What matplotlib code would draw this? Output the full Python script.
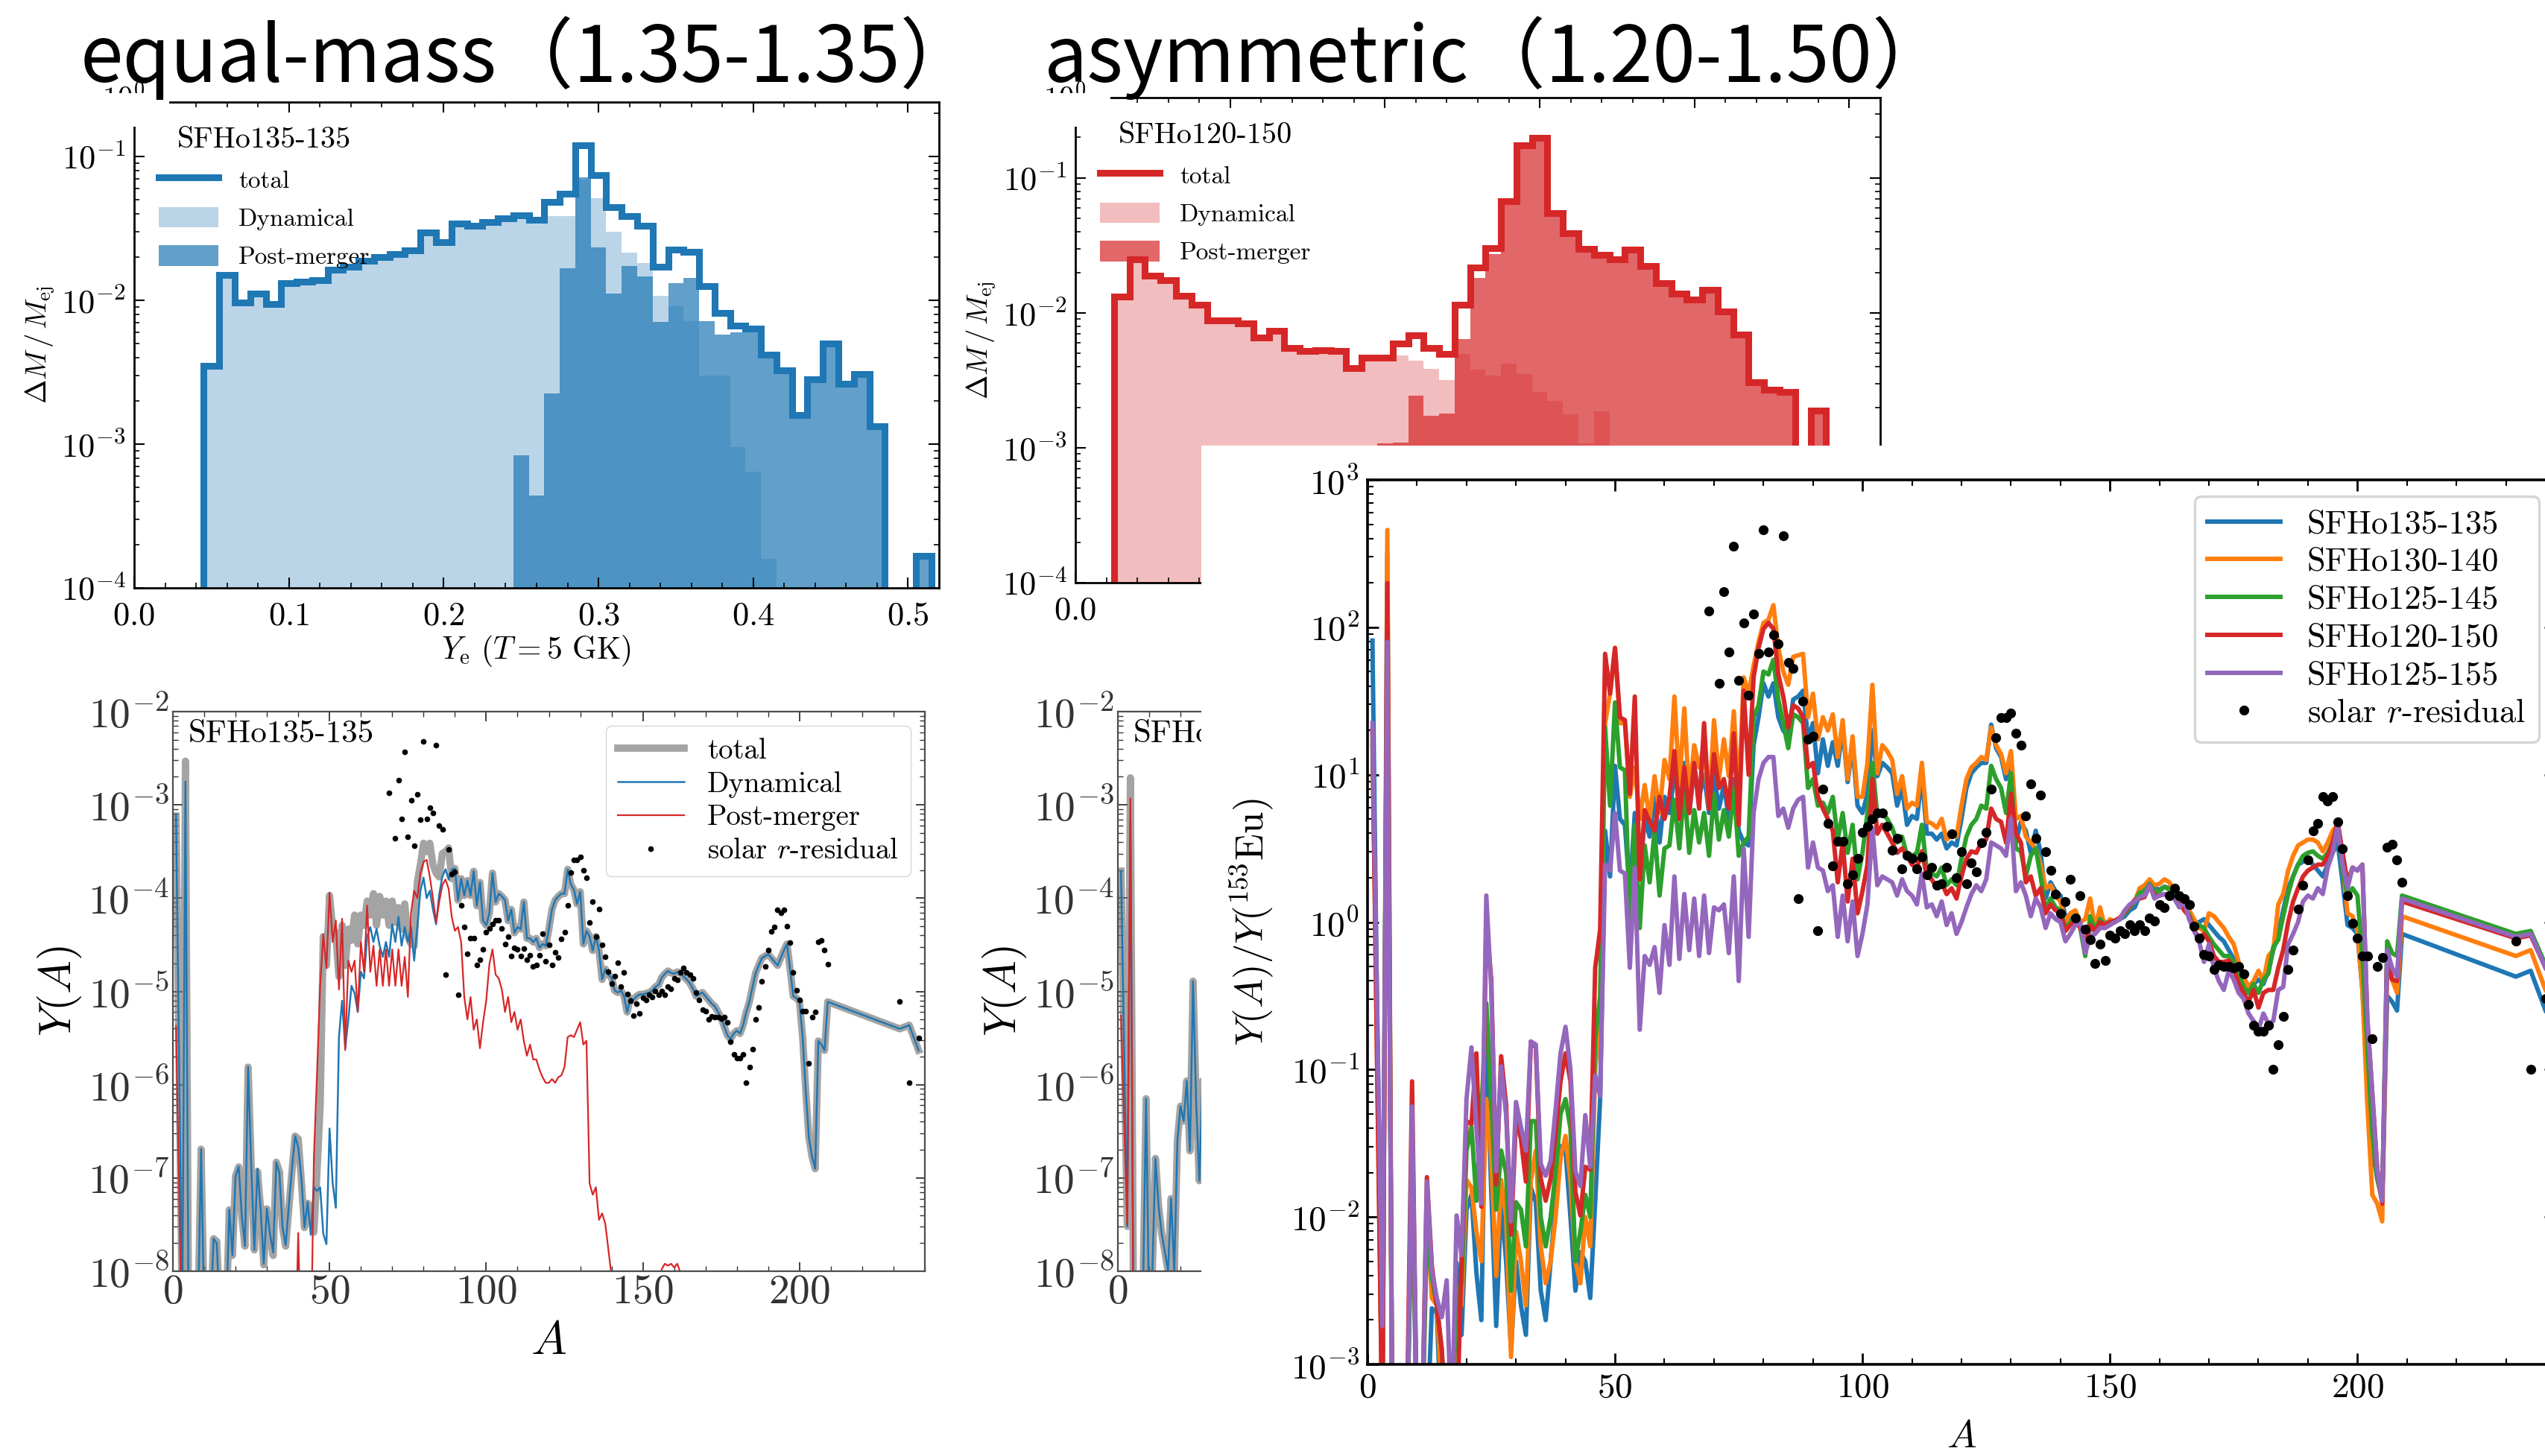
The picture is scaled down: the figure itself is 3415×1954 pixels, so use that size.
import numpy as np
import matplotlib.pyplot as plt
from matplotlib import font_manager
from matplotlib.patches import Rectangle
from matplotlib.ticker import MultipleLocator, LogLocator

plt.rcParams['font.family'] = ['cmr10', 'DejaVu Serif']
plt.rcParams['mathtext.fontset'] = 'cm'
plt.rcParams['axes.unicode_minus'] = False
plt.rcParams['axes.formatter.use_mathtext'] = True

W, H = 3416, 1954

# ---------------- Ye histograms (bins 0.01 wide) ----------------
ye_edges_135 = np.arange(0.045, 0.516, 0.01)
total_135 = [3.5e-3, 1.5e-2, 9.6e-3, 1.12e-2, 9.4e-3, 1.32e-2, 1.34e-2, 1.38e-2, 1.64e-2, 1.71e-2,
             1.88e-2, 2.0e-2, 2.09e-2, 2.22e-2, 2.96e-2, 2.54e-2, 3.40e-2, 3.28e-2, 3.49e-2, 3.71e-2,
             3.89e-2, 3.62e-2, 4.82e-2, 5.54e-2, 0.120, 7.38e-2, 4.45e-2, 3.85e-2, 3.28e-2, 1.71e-2,
             2.25e-2, 2.17e-2, 1.26e-2, 8.2e-3, 6.7e-3, 6.35e-3, 4.2e-3, 3.25e-3, 1.6e-3, 2.84e-3,
             5.0e-3, 2.64e-3, 3.06e-3, 1.33e-3, 0, 0, 1.67e-4]
dyn_135 = [3.5e-3, 1.5e-2, 9.6e-3, 1.12e-2, 9.4e-3, 1.32e-2, 1.34e-2, 1.38e-2, 1.64e-2, 1.71e-2,
           1.88e-2, 2.0e-2, 2.09e-2, 2.22e-2, 2.96e-2, 2.54e-2, 3.40e-2, 3.28e-2, 3.49e-2, 3.71e-2,
           3.89e-2, 3.62e-2, 3.85e-2, 3.85e-2, 6.9e-2, 5.1e-2, 3.0e-2, 2.14e-2, 1.82e-2, 1.08e-2,
           9.1e-3, 7.2e-3, 3.0e-3, 3.0e-3, 9.5e-4, 6.4e-4, 1.6e-4, 0, 0, 0,
           0, 0, 0, 0, 0, 0, 0]
pm_135 = [0, 0, 0, 0, 0, 0, 0, 0, 0, 0,
          0, 0, 0, 0, 0, 0, 0, 0, 0, 0,
          8.4e-4, 4.4e-4, 2.25e-3, 1.68e-2, 7.2e-2, 2.32e-2, 1.12e-2, 1.73e-2, 1.47e-2, 7.1e-3,
          1.32e-2, 1.43e-2, 7.2e-3, 5.8e-3, 6.0e-3, 6.0e-3, 4.2e-3, 3.25e-3, 1.6e-3, 2.84e-3,
          5.0e-3, 2.64e-3, 3.06e-3, 1.33e-3, 0, 0, 1.67e-4]

ye_edges_120 = np.arange(0.025, 0.486, 0.01)
total_120 = [1.32e-2, 2.51e-2, 1.89e-2, 1.74e-2, 1.34e-2, 1.15e-2, 8.8e-3, 8.8e-3, 8.4e-3, 6.6e-3,
             7.4e-3, 5.5e-3, 5.2e-3, 5.3e-3, 5.2e-3, 3.9e-3, 4.65e-3, 4.65e-3, 5.96e-3, 6.8e-3,
             5.5e-3, 4.97e-3, 1.15e-2, 2.18e-2, 3.03e-2, 6.7e-2, 0.174, 0.198, 5.47e-2, 3.89e-2,
             2.98e-2, 2.70e-2, 2.51e-2, 2.94e-2, 2.24e-2, 1.66e-2, 1.40e-2, 1.25e-2, 1.48e-2, 1.03e-2,
             6.9e-3, 3.06e-3, 2.69e-3, 2.58e-3, 0, 1.89e-3]
dyn_120 = [1.32e-2, 2.51e-2, 1.89e-2, 1.74e-2, 1.34e-2, 1.15e-2, 8.8e-3, 8.8e-3, 8.4e-3, 6.6e-3,
           7.4e-3, 5.5e-3, 5.2e-3, 5.3e-3, 5.2e-3, 3.9e-3, 4.65e-3, 4.65e-3, 4.83e-3, 4.43e-3,
           3.85e-3, 3.19e-3, 4.97e-3, 3.78e-3, 3.43e-3, 4.19e-3, 3.53e-3, 2.58e-3, 2.24e-3, 1.77e-3,
           1.08e-3, 1.87e-3, 8e-4, 6e-4, 4e-4, 3e-4, 2e-4, 0, 0, 0,
           0, 0, 0, 0, 0, 0]
pm_120 = [0, 0, 0, 0, 0, 0, 0, 0, 0, 0,
          0, 0, 0, 0, 0, 0, 0, 1.08e-3, 1.1e-3, 2.44e-3,
          1.73e-3, 1.8e-3, 6.4e-3, 1.82e-2, 2.74e-2, 6.4e-2, 0.164, 0.194, 5.3e-2, 3.8e-2,
          2.9e-2, 2.65e-2, 2.45e-2, 2.9e-2, 2.2e-2, 1.62e-2, 1.37e-2, 1.22e-2, 1.45e-2, 1.0e-2,
          6.7e-3, 3.0e-3, 2.6e-3, 2.5e-3, 0, 1.85e-3]

# ---------------- abundances, Y(A)/Y(153Eu), stored as log10 ----------------
# mass numbers: 1, 3..209, then 232, 235, 238
A_model = [1] + list(range(3, 210)) + [232, 235, 238]

log_sfho135 = [1.91,
    -3.5, 2.5, -3.5, -3.5, -3.5, -3.5, -1.66,
    -3.5, -3.5, -3.5, -2.62, -2.65, -3.5, -3.5, -3.5, -2.31, -2.8,
    -1.95, -1.85, -2.38, -2.7, -0.78, -1.83, -2.74, -1.9, -2.3, -2.9,
    -2.3, -2.6, -2.8, -1.8, -1.9, -2.5, -2.7, -2.3, -1.9, -1.52,
    -1.55, -2.0, -2.5, -2.24, -2.3, -2.55, -1.9, -1.2, 0.62, 0.31,
    1.06, 0.70, 0.66, 0.19, 0.74, 0.31, 0.70, 0.58, 0.85, 0.54,
    0.85, 0.74, 1.0, 0.85, 1.08, 0.74, 1.05, 0.85, 1.0, 0.74,
    1.0, 0.77, 0.93, 0.70, 0.97, 0.62, 0.54, 0.52, 1.20, 1.39,
    1.62, 1.53, 1.62, 1.39, 1.30, 1.26, 1.51, 1.53, 1.57, 1.24,
    1.35, 1.01, 1.24, 1.06, 1.22, 1.06, 1.32, 0.95, 1.20, 0.79,
    0.74, 0.87, 1.30, 0.99, 1.08, 1.05, 1.01, 0.79, 0.91, 0.66,
    0.72, 0.70, 0.99, 0.60, 0.60, 0.56, 0.60, 0.50, 0.54, 0.52,
    0.70, 0.91, 1.01, 1.05, 1.08, 1.08, 1.34, 1.18, 1.12, 0.97,
    1.10, 0.54, 0.68, 0.62, 0.47, 0.62, 0.47, 0.16, 0.27, 0.21,
    0.18, 0.04, 0.02, 0.04, -0.02, -0.19, -0.04, -0.06, -0.02, 0.0,
    0.0, 0.01, 0.02, 0.04, 0.08, 0.10, 0.18, 0.22, 0.25, 0.23,
    0.22, 0.24, 0.23, 0.19, 0.16, 0.12, 0.06, -0.02, 0.0, 0.02,
    -0.02, -0.06, -0.10, -0.13, -0.19, -0.25, -0.35, -0.44, -0.48, -0.42,
    -0.39, -0.42, -0.33, -0.19, -0.08, 0.08, 0.23, 0.31, 0.39, 0.41,
    0.43, 0.39, 0.35, 0.31, 0.39, 0.47, 0.54, 0.27, -0.02, -0.04,
    -0.08, -0.46, -1.04, -1.54, -1.74, -1.87, -0.50, -0.54, -0.60, -0.08,
    -0.37, -0.33, -0.60]

log_sfho130 = [1.3,
    -3.5, 2.66, -3.5, -3.5, -3.5, -3.5, -1.5,
    -3.5, -3.5, -2.0, -2.55, -2.6, -3.2, -3.5, -3.5, -2.5, -2.6,
    -1.75, -1.8, -2.1, -2.3, -1.2, -1.6, -2.4, -1.75, -2.0, -2.95,
    -2.1, -2.3, -2.6, -1.75, -1.55, -2.2, -2.45, -2.3, -2.0, -1.6,
    -1.45, -1.75, -2.3, -2.45, -2.0, -2.2, -1.0, -0.6, 1.35, 1.55,
    1.86, 1.35, 1.35, 0.85, 1.05, 0.70, 0.93, 0.70, 0.99, 0.74,
    1.10, 0.97, 1.53, 0.93, 1.45, 0.85, 1.20, 1.05, 1.20, 0.77,
    1.37, 0.97, 1.24, 0.99, 1.43, 0.85, 1.66, 1.55, 1.74, 1.90,
    2.03, 2.05, 2.15, 1.86, 1.70, 1.61, 1.80, 1.81, 1.82, 1.39,
    1.55, 1.24, 1.39, 1.30, 1.41, 1.12, 1.37, 0.97, 1.26, 0.85,
    0.85, 1.08, 1.61, 1.01, 1.20, 1.16, 1.10, 0.87, 0.99, 0.77,
    0.81, 0.79, 1.08, 0.68, 0.67, 0.64, 0.70, 0.56, 0.59, 0.58,
    0.79, 0.97, 1.05, 1.08, 1.12, 1.10, 1.32, 1.20, 1.14, 1.01,
    1.16, 0.70, 0.72, 0.58, 0.54, 0.50, 0.39, 0.23, 0.25, 0.18,
    0.14, 0.0, 0.06, 0.08, 0.0, 0.02, 0.16, -0.04, 0.10, -0.04,
    0.02, 0.0, 0.02, 0.08, 0.10, 0.14, 0.23, 0.25, 0.29, 0.25,
    0.26, 0.29, 0.27, 0.21, 0.18, 0.16, 0.08, 0.02, -0.04, -0.06,
    0.06, 0.04, 0.0, -0.04, -0.10, -0.15, -0.27, -0.37, -0.44, -0.40,
    -0.33, -0.40, -0.23, -0.19, 0.12, 0.19, 0.35, 0.45, 0.52, 0.54,
    0.56, 0.56, 0.54, 0.48, 0.54, 0.62, 0.66, 0.39, 0.06, 0.04,
    -0.06, -0.46, -1.24, -1.85, -1.91, -2.03, -0.31, -0.39, -0.48, 0.04,
    -0.23, -0.19, -0.46]

log_sfho125_145 = [1.2,
    -2.74, 2.0, -3.5, -3.5, -3.5, -3.5, -1.6,
    -3.5, -3.5, -2.1, -2.41, -2.6, -2.9, -3.5, -3.5, -2.5, -2.45,
    -1.55, -1.39, -1.89, -1.3, -0.55, -1.2, -1.95, -1.55, -1.7, -2.5,
    -1.9, -1.95, -2.2, -1.35, -1.35, -2.0, -2.2, -2.0, -1.7, -1.3,
    -1.2, -1.4, -2.3, -2.1, -1.85, -2.0, -0.8, -0.5, 1.32, 0.79,
    1.49, 1.05, 1.03, 0.0, 0.66, -0.04, 0.52, 0.27, 0.62, 0.18,
    0.50, 0.52, 0.83, 0.50, 0.91, 0.47, 0.76, 0.54, 0.74, 0.45,
    0.87, 0.56, 0.76, 0.58, 0.91, 0.45, 0.54, 0.58, 1.39, 1.47,
    1.70, 1.68, 1.78, 1.51, 1.35, 1.18, 1.41, 1.39, 1.35, 0.91,
    0.97, 0.79, 0.81, 0.74, 0.85, 0.56, 0.74, 0.47, 0.66, 0.29,
    0.47, 0.74, 1.08, 0.72, 0.74, 0.70, 0.64, 0.54, 0.58, 0.45,
    0.45, 0.47, 0.66, 0.35, 0.33, 0.31, 0.37, 0.25, 0.29, 0.25,
    0.43, 0.58, 0.66, 0.70, 0.79, 0.77, 1.06, 0.97, 0.91, 0.74,
    1.01, 0.50, 0.48, 0.31, 0.45, 0.50, 0.31, 0.08, 0.16, 0.10,
    0.08, -0.04, 0.0, 0.02, -0.04, -0.23, 0.04, -0.06, 0.02, -0.02,
    0.0, 0.01, 0.02, 0.06, 0.10, 0.14, 0.20, 0.21, 0.26, 0.21,
    0.21, 0.24, 0.22, 0.18, 0.15, 0.10, 0.05, -0.04, -0.02, -0.04,
    -0.10, -0.15, -0.19, -0.23, -0.23, -0.27, -0.36, -0.44, -0.48, -0.42,
    -0.48, -0.39, -0.35, -0.17, -0.12, 0.04, 0.19, 0.31, 0.39, 0.45,
    0.47, 0.48, 0.45, 0.43, 0.47, 0.54, 0.66, 0.35, 0.18, 0.23,
    0.18, -0.23, -0.85, -1.43, -1.74, -1.89, -0.13, -0.21, -0.23, 0.18,
    -0.08, -0.06, -0.29]

log_sfho120 = [1.3,
    -3.5, 2.30, -3.5, -3.5, -3.5, -3.3, -1.08,
    -3.5, -3.5, -1.73, -2.33, -2.6, -2.9, -3.5, -3.5, -3.5, -2.28,
    -1.35, -1.37, -0.89, -1.93, 0.0, -0.39, -1.78, -0.91, -1.24, -2.12,
    -1.33, -1.47, -1.76, -0.81, -0.85, -1.74, -1.89, -1.74, -1.43, -1.08,
    -0.89, -1.08, -1.83, -1.99, -1.66, -1.68, -0.31, -0.05, 1.82, 1.55,
    1.86, 1.39, 1.37, 0.87, 1.53, 0.29, 0.76, 0.68, 0.62, 0.85,
    0.70, 0.85, 1.16, 0.70, 1.05, 0.74, 1.08, 0.77, 1.35, 0.77,
    1.14, 0.91, 0.97, 0.77, 1.28, 0.66, 1.57, 1.0, 1.66, 1.86,
    1.99, 2.03, 1.99, 1.68, 1.53, 1.32, 1.47, 1.45, 1.39, 1.05,
    1.08, 0.85, 0.77, 0.70, 0.62, 0.27, 0.54, 0.14, 0.43, 0.06,
    0.21, 0.39, 0.97, 0.60, 0.66, 0.60, 0.54, 0.47, 0.50, 0.45,
    0.39, 0.37, 0.48, 0.31, 0.29, 0.23, 0.27, 0.19, 0.23, 0.16,
    0.31, 0.43, 0.48, 0.47, 0.54, 0.56, 0.77, 0.70, 0.68, 0.54,
    0.87, 0.60, 0.54, 0.27, 0.31, 0.18, 0.23, 0.06, 0.12, 0.08,
    0.06, -0.06, -0.02, 0.02, -0.04, -0.15, -0.02, -0.06, 0.0, -0.02,
    0.0, 0.01, 0.03, 0.07, 0.11, 0.15, 0.16, 0.17, 0.25, 0.18,
    0.18, 0.19, 0.18, 0.16, 0.14, 0.08, 0.04, -0.06, -0.10, -0.08,
    -0.13, -0.23, -0.27, -0.27, -0.26, -0.31, -0.42, -0.48, -0.54, -0.46,
    -0.58, -0.48, -0.46, -0.46, -0.31, -0.19, 0.0, 0.14, 0.23, 0.31,
    0.35, 0.37, 0.39, 0.39, 0.45, 0.54, 0.68, 0.47, 0.27, 0.37,
    0.35, 0.39, -0.66, -1.16, -1.68, -1.91, -0.23, -0.39, -0.40, 0.14,
    -0.11, -0.09, -0.31]

log_sfho125_155 = [1.35,
    -2.74, 1.90, -3.5, -3.5, -3.5, -3.5, -1.25,
    -3.5, -3.5, -1.76, -2.36, -2.55, -2.68, -2.43, -3.5, -1.99, -2.26,
    -1.20, -0.85, -1.39, -1.91, 0.18, -0.46, -1.69, -0.98, -1.31, -2.03,
    -1.22, -1.39, -1.55, -0.81, -0.83, -1.64, -1.72, -1.62, -1.27, -0.89,
    -0.71, -1.0, -1.69, -1.79, -1.31, -1.66, -1.04, -1.18, 0.39, 0.35,
    0.74, 0.35, 0.33, -0.31, 0.37, -0.73, -0.23, -0.29, -0.17, -0.48,
    -0.02, -0.29, 0.31, -0.25, 0.19, -0.19, 0.16, -0.23, 0.18, -0.21,
    0.10, 0.08, 0.12, -0.21, 0.31, -0.40, 0.50, -0.10, 0.74, 0.97,
    1.08, 1.12, 1.12, 0.72, 0.77, 0.64, 0.77, 0.83, 0.85, 0.37,
    0.54, 0.37, 0.35, 0.21, 0.25, -0.10, 0.18, -0.13, 0.14, -0.23,
    -0.08, 0.12, 0.64, 0.25, 0.31, 0.29, 0.27, 0.18, 0.29, 0.21,
    0.18, 0.12, 0.33, 0.10, 0.12, 0.04, 0.14, -0.02, 0.06, -0.08,
    0.0, 0.10, 0.19, 0.25, 0.21, 0.29, 0.54, 0.52, 0.50, 0.45,
    0.70, 0.21, 0.27, 0.18, 0.04, 0.16, 0.10, -0.04, 0.06, 0.02,
    0.0, -0.13, -0.08, -0.02, 0.0, -0.21, -0.10, -0.08, -0.04, -0.04,
    -0.02, 0.0, 0.02, 0.08, 0.12, 0.14, 0.17, 0.18, 0.25, 0.16,
    0.18, 0.19, 0.19, 0.16, 0.10, 0.14, 0.02, -0.06, -0.13, -0.27,
    -0.15, -0.31, -0.40, -0.46, -0.33, -0.39, -0.48, -0.52, -0.62, -0.67,
    -0.73, -0.62, -0.69, -0.67, -0.46, -0.44, -0.15, -0.08, 0.0, 0.14,
    0.18, 0.16, 0.23, 0.19, 0.37, 0.47, 0.66, 0.39, 0.23, 0.37,
    0.35, 0.39, -0.66, -1.16, -1.68, -1.89, -0.19, -0.31, -0.37, 0.16,
    -0.10, -0.08, -0.31]

# solar r-process residuals, log10 of Y(A)/Y(153Eu)
A_solar = [69, 71, 72, 73, 74, 75, 76, 77, 78, 79,
           80, 81, 82, 83, 84, 85, 86, 87, 88, 89,
           90, 91, 92, 93, 94, 95, 96, 97, 98, 99,
           100, 101, 102, 103, 104, 105, 106, 107, 108, 109,
           110, 111, 112, 113, 114, 115, 116, 117, 118, 119,
           120, 121, 122, 123, 124, 125, 126, 127, 128, 129,
           130, 131, 132, 133, 134, 135, 136, 137, 138, 139,
           140, 141, 142, 143, 144, 145, 146, 147, 148, 149,
           150, 151, 152, 153, 154, 155, 156, 157, 158, 159,
           160, 161, 162, 163, 164, 165, 166, 167, 168, 169,
           170, 171, 172, 173, 174, 175, 176, 177, 178, 179,
           180, 181, 182, 183, 184, 185, 186, 187, 188, 189,
           190, 191, 192, 193, 194, 195, 196, 197, 198, 199,
           200, 201, 202, 203, 204, 205, 206, 207, 208, 209,
           232, 235, 238]
log_solar = [2.11, 1.62, 2.24, 1.83, 2.55, 1.64, 2.03, 1.54, 2.09, 1.82,
             2.66, 1.83, 1.95, 1.89, 2.62, 1.76, 1.72, 0.16, 1.50, 1.24,
             1.26, -0.06, 0.90, 0.67, 0.38, 0.55, 0.55, 0.26, 0.32, 0.43,
             0.61, 0.65, 0.70, 0.74, 0.74, 0.65, 0.49, 0.57, 0.36, 0.45,
             0.43, 0.36, 0.44, 0.32, 0.37, 0.25, 0.26, 0.37, 0.60, 0.30,
             0.48, 0.26, 0.40, 0.34, 0.54, 0.61, 0.90, 1.25, 1.39, 1.39,
             1.42, 1.28, 1.20, 0.72, 0.94, 0.57, 0.86, 0.48, 0.35, 0.19,
             0.06, 0.14, 0.29, 0.03, 0.18, -0.05, -0.12, -0.28, -0.15, -0.26,
             -0.09, -0.11, -0.06, -0.08, -0.02, -0.06, -0.02, -0.06, 0.03, 0.01,
             0.12, 0.10, 0.18, 0.23, 0.18, 0.16, 0.12, -0.03, -0.11, -0.22,
             -0.23, -0.32, -0.29, -0.30, -0.30, -0.31, -0.30, -0.35, -0.56, -0.70,
             -0.74, -0.74, -0.70, -1.0, -0.83, -0.64, -0.32, -0.19, 0.09, 0.25,
             0.42, 0.62, 0.67, 0.85, 0.82, 0.85, 0.68, 0.50, 0.18, -0.01,
             -0.11, -0.23, -0.23, -0.79, -0.30, -0.24, 0.51, 0.53, 0.42, 0.27,
             -0.13, -1.00, -0.52]

# absolute scale used in the Y(A) panels
y_eu153_sfho135 = 9.3e-6
y_solar_scale = 1.05e-5

# SFHo135-135 components in Y(A), log10
bl_dyn_low = [-3.1,
    -8.5, -2.75, -8.5, -8.5, -8.5, -8.5, -6.69,
    -8.5, -8.5, -8.5, -7.65, -7.7, -8.5, -8.5, -8.5, -7.34, -7.83,
    -6.98, -6.88, -7.41, -7.73, -5.81, -6.86, -7.77, -6.9, -7.33, -7.92,
    -7.33, -7.6, -7.8, -6.83, -6.95, -7.53, -7.72, -7.3, -6.9, -6.55,
    -6.67, -7.0, -7.53, -7.26, -7.61, -7.1, -7.14, -7.1, -7.6, -7.71,
    -6.47, -7.06, -7.32, -5.49, -5.10, -5.61, -5.30, -4.94, -5.02, -5.22,
    -4.79, -4.86, -4.41, -4.31, -4.47, -4.33, -4.51, -4.63, -4.47, -4.63,
    -4.28, -4.47, -4.20, -4.51, -4.31, -4.47, -4.31, -4.67, -4.31, -3.92,
    -3.78, -4.0, -3.92, -4.12, -4.28, -3.96, -3.77, -3.69, -3.80, -3.69]
bl_pm = [-5.37,
    -9, -9, -9, -9, -9, -9, -9,
    -9, -9, -9, -9, -9, -9, -9, -9, -9, -9,
    -9, -9, -9, -9, -9, -9, -9, -9, -9, -9,
    -9, -9, -9, -9, -9, -9, -9, -9, -9, -9,
    -7.59, -9, -9, -9, -9, -6.77, -5.88, -4.94, -4.39, -4.75,
    -3.94, -4.47, -4.24, -4.98, -4.22, -5.63, -4.67, -4.79, -4.67, -5.22,
    -4.47, -4.79, -4.08, -4.79, -4.51, -4.94, -4.55, -4.94, -4.55, -4.94,
    -4.55, -4.94, -4.55, -4.94, -4.63, -5.06, -4.16, -3.92, -4.0, -3.73,
    -3.61, -3.59, -3.77, -4.0, -4.26, -4.04, -3.86, -3.80, -3.90, -4.20,
    -4.35, -4.31, -4.47, -5.06, -5.30, -5.06, -5.41, -5.30, -5.61, -5.33,
    -5.10, -4.71, -4.55, -4.82, -4.86, -4.98, -5.22, -5.06, -5.33, -5.22,
    -5.41, -5.30, -5.53, -5.69, -5.57, -5.73, -5.73, -5.84, -5.92, -5.98,
    -5.98, -5.94, -5.98, -5.92, -5.90, -5.81, -5.49, -5.47, -5.49, -5.41,
    -5.33, -5.57, -5.53, -7.06, -7.18, -7.10, -7.45, -7.38, -7.49, -7.77,
    -8.05, -9, -9, -9, -9, -9, -9, -9, -9, -9,
    -9, -9, -9, -9, -9, -8.5, -7.98, -7.92, -7.94, -7.92,
    -7.96, -7.92, -8.02, -9]

# SFHo120-150 in Y(A) (only low A is left uncovered)
A_asym = [1] + list(range(3, 29))
asym_total = [-3.71, -7.52, -2.71, -8.5, -8.5, -8.5, -8.3, -6.15, -8.5, -8.0,
              -6.79, -7.3, -7.6, -7.79, -8.0, -7.22, -8.0, -6.6, -6.23, -6.39,
              -5.96, -6.71, -4.89, -6.2, -7.03, -5.96, -6.5]
asym_dyn = [-3.71, -7.52, -3.17, -8.5, -8.5, -8.5, -8.3, -6.15, -8.5, -8.0,
            -6.79, -7.3, -7.6, -7.79, -8.0, -7.22, -8.0, -6.6, -6.23, -6.39,
            -5.96, -6.71, -4.89, -6.2, -7.03, -5.96, -6.5]
asym_pm = [-5.26, -7.5, -2.93, -9, -9, -9, -9, -9, -9, -9,
           -9, -9, -9, -9, -9, -9, -9, -9, -9, -9,
           -9, -9, -9, -9, -9, -9, -9]

model_names = ['SFHo135-135', 'SFHo130-140', 'SFHo125-145', 'SFHo120-150', 'SFHo125-155']
model_logs = [log_sfho135, log_sfho130, log_sfho125_145, log_sfho120, log_sfho125_155]
model_colors = ['C0', 'C1', 'C2', 'C3', 'C4']
for arr in model_logs:
    assert len(arr) == len(A_model)
assert len(A_solar) == len(log_solar)
assert len(bl_dyn_low) == 88 and len(bl_pm) == 162


def box(left, top, right, bottom):
    return [left / W, 1 - bottom / H, (right - left) / W, (bottom - top) / H]


fig = plt.figure(figsize=(W / 100, H / 100), dpi=100)


def draw_hist(ax, edges, total, dyn, pm, color, name, top):
    floor = 1e-6
    fix = lambda v: np.where(np.array(v) > 0, v, floor)
    ax.stairs(fix(dyn), edges, fill=True, color=color, alpha=0.3, lw=0, baseline=floor, label='Dynamical')
    ax.stairs(fix(pm), edges, fill=True, color=color, alpha=0.7, lw=0, baseline=floor, label='Post-merger')
    ax.stairs(fix(total), edges, color=color, lw=6.5, baseline=floor, label='total')
    ax.set_yscale('log')
    ax.set_xlim(0, 0.52)
    ax.set_ylim(1e-4, top)
    ax.xaxis.set_major_locator(MultipleLocator(0.1))
    ax.xaxis.set_minor_locator(MultipleLocator(0.02))
    ax.tick_params(which='both', direction='in', top=True, right=True, labelsize=32)
    ax.tick_params(axis='x', which='major', pad=13)
    ax.tick_params(axis='y', which='major', pad=8)
    ax.tick_params(which='major', length=10, width=1.5)
    ax.tick_params(which='minor', length=5, width=1.2)
    for s in ax.spines.values():
        s.set_linewidth(2.0)
    ax.set_xlabel(r'$Y_{\rm e}$ ($T = 5$ GK)', fontsize=30, labelpad=2)
    ax.set_ylabel(r'$\Delta M\,/\,M_{\rm ej}$', fontsize=28)
    h, l = ax.get_legend_handles_labels()
    order = [l.index('total'), l.index('Dynamical'), l.index('Post-merger')]
    ax.legend([h[i] for i in order], [l[i] for i in order], title=name, loc='upper left',
              frameon=False, fontsize=24, title_fontsize=29, handlelength=2.4,
              handleheight=0.9, labelspacing=0.6, borderaxespad=0.6)


def style_ya(ax, tick_size):
    ax.set_yscale('log')
    ax.set_xlim(0, 240)
    ax.xaxis.set_major_locator(MultipleLocator(50))
    ax.xaxis.set_minor_locator(MultipleLocator(10))
    ax.yaxis.set_major_locator(LogLocator(base=10, numticks=12))
    ax.yaxis.set_minor_locator(LogLocator(base=10, subs=np.arange(2, 10), numticks=12))
    ax.tick_params(which='both', direction='in', top=True, right=True, labelsize=tick_size)


# top row: Ye histograms
ax_h1 = fig.add_axes(box(180, 137, 1260, 789))
draw_hist(ax_h1, ye_edges_135, total_135, dyn_135, pm_135, 'C0', 'SFHo135-135', 0.239)
ax_h2 = fig.add_axes(box(1443, 131, 2523, 782))
draw_hist(ax_h2, ye_edges_120, total_120, dyn_120, pm_120, 'C3', 'SFHo120-150', 0.395)

# bottom row: Y(A) per component
A_arr = np.array(A_model)
bl_total = 10 ** np.array(log_sfho135) * y_eu153_sfho135
bl_dyn = np.concatenate([10 ** np.array(bl_dyn_low), bl_total[len(bl_dyn_low):]])
solar = 10 ** np.array(log_solar)

for left, A_t, tot, dyn, pm_A, pm, name in [
        (232, A_arr, bl_total, bl_dyn, A_arr[:len(bl_pm)], 10 ** np.array(bl_pm), 'SFHo135-135'),
        (1500, np.array(A_asym), 10 ** np.array(asym_total), 10 ** np.array(asym_dyn),
         np.array(A_asym), 10 ** np.array(asym_pm), 'SFHo120-150')]:
    ax = fig.add_axes(box(left, 955, left + 1009, 1706))
    ax.plot(A_t, tot, color='0.45', alpha=0.65, lw=7, label='total')
    ax.plot(A_t, dyn, color='C0', lw=1.8, label='Dynamical')
    ax.plot(pm_A, pm, color='C3', lw=1.6, label='Post-merger')
    if left == 232:
        ax.plot(A_solar, solar * y_solar_scale, 'o', color='k', ms=4.5, ls='none',
                label=r'solar $r$-residual')
        ax.legend(loc='upper right', fontsize=28, handlelength=2.3, labelspacing=0.23,
                  borderaxespad=0.5, numpoints=1)
    style_ya(ax, 40)
    ax.set_ylim(1e-8, 1e-2)
    ax.tick_params(which='major', length=9, width=1.3, colors='0.2')
    ax.tick_params(which='minor', length=5, width=1.0, colors='0.2')
    for s in ax.spines.values():
        s.set_linewidth(1.6)
        s.set_color('0.3')
    ax.text(0.02, 0.985, name, transform=ax.transAxes, va='top', ha='left', fontsize=31)
    ax.set_xlabel(r'$A$', fontsize=46, labelpad=8)
    ax.set_ylabel(r'$Y(A)$', fontsize=43)

# white backdrop for the overlaid ratio panel
fig.add_artist(Rectangle((1612 / W, 0), 1 - 1612 / W, 1 - 598 / H, transform=fig.transFigure,
                         facecolor='white', edgecolor='none', zorder=5))

# right: abundance ratio panel
ax_r = fig.add_axes(box(1835, 644, 3429, 1831), zorder=10)
for logs, name, c in zip(model_logs, model_names, model_colors):
    ax_r.plot(A_model, 10 ** np.array(logs), color=c, lw=4.3, label=name)
ax_r.plot(A_solar, solar, 'o', color='k', ms=8.5, ls='none', label=r'solar $r$-residual')
style_ya(ax_r, 34)
ax_r.set_ylim(1e-3, 1e3)
ax_r.tick_params(which='major', length=11, width=2.0, pad=8)
ax_r.tick_params(which='minor', length=6, width=1.5)
for s in ax_r.spines.values():
    s.set_linewidth(2.6)
ax_r.set_xlabel(r'$A$', fontsize=38, labelpad=16)
ax_r.set_ylabel(r'$Y(A)/Y(^{153}{\rm Eu})$', fontsize=38, labelpad=14)
leg = ax_r.legend(loc='upper right', fontsize=32, handlelength=2.2, labelspacing=0.24,
                  borderaxespad=0.5, numpoints=1)
leg.get_frame().set_linewidth(2.5)

# remnants of "10^0" labels peeking out under the titles
for x0 in (137, 1400):
    fig.text(x0 / W, 1 - 145 / H, r'$10^{0}$', fontsize=29, ha='left', va='baseline', zorder=-1)
    fig.add_artist(Rectangle(((x0 - 10) / W, 1 - 170 / H), 100 / W, 45 / H,
                             transform=fig.transFigure, facecolor='white', edgecolor='none', zorder=1))

# titles
names = {f.name for f in font_manager.fontManager.ttflist}
title_family = ['Liberation Sans Narrow', 'Noto Sans CJK JP'] if 'Liberation Sans Narrow' in names \
    else ['Noto Sans CJK JP', 'DejaVu Sans']
t1 = fig.text(108 / W, 1 - 110 / H, 'equal-mass（1.35-1.35）', fontsize=80, family=title_family,
              ha='left', va='baseline', zorder=3)
t2 = fig.text(1401 / W, 1 - 110 / H, 'asymmetric（1.20-1.50）', fontsize=80, family=title_family,
              ha='left', va='baseline', zorder=3)
renderer = fig.canvas.get_renderer()
scale = 1205 / t1.get_window_extent(renderer).width
t1.set_fontsize(80 * scale)
t2.set_fontsize(80 * scale)
fig.add_artist(Rectangle((2548 / W, 1 - 125 / H), 120 / W, 125 / H, transform=fig.transFigure,
                         facecolor='white', edgecolor='none', zorder=4))

fig.savefig('out.png', dpi=100, facecolor='white')
